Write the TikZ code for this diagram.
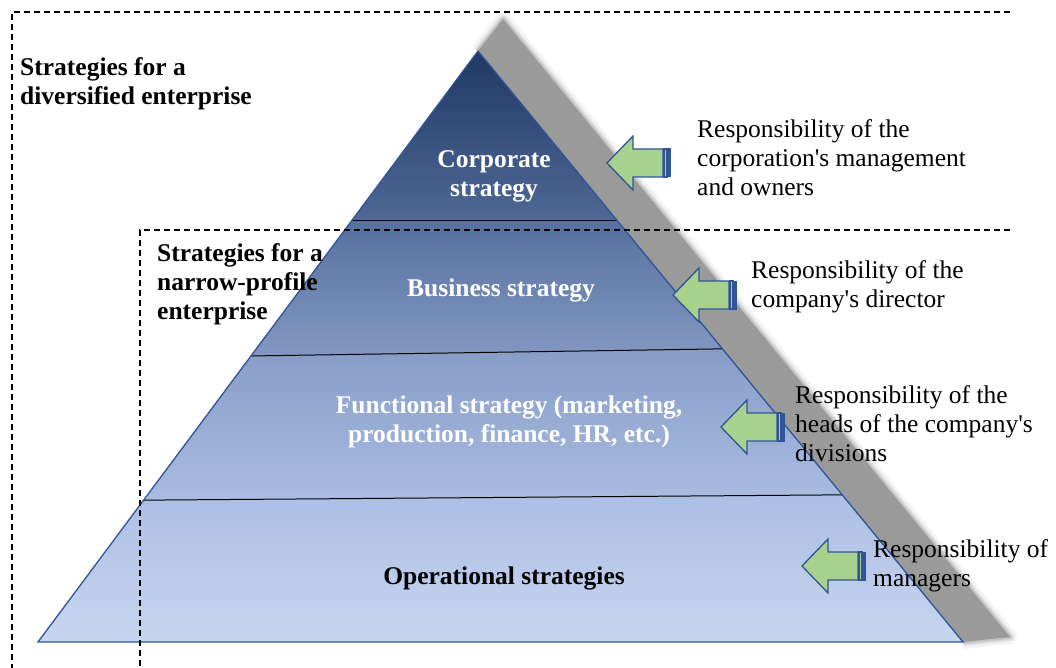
\documentclass[tikz,border=0pt]{standalone}
\usepackage{fontspec}
\setmainfont{Liberation Serif}
\usepackage{tikz}
\usetikzlibrary{calc}
\definecolor{edgeblue}{HTML}{2F5597}
\definecolor{arrowgreen}{HTML}{A9D18E}
\definecolor{shadowgray}{HTML}{9A9A9A}
\definecolor{bandA}{HTML}{203864}
\definecolor{bandB}{HTML}{4F6896}
\definecolor{bandC}{HTML}{56709F}
\definecolor{bandD}{HTML}{8298C2}
\definecolor{bandE}{HTML}{879DC6}
\definecolor{bandF}{HTML}{A9BCE2}
\definecolor{bandG}{HTML}{ABBEE4}
\definecolor{bandH}{HTML}{C8D5EF}
\newcommand{\txt}{\fontsize{25.5}{29}\selectfont}
\newcommand{\apos}{\textquotesingle}

\tikzset{
  lbl/.style={font=\txt, align=left, anchor=west, inner sep=0pt},
  boldlbl/.style={font=\txt\bfseries, align=left, anchor=west, inner sep=0pt},
  inlbl/.style={font=\txt\bfseries, align=center, inner sep=0pt, text=white},
  frame/.style={dash pattern=on 6pt off 4pt, line width=1.1pt},
  pics/resparrow/.style={code={
    \filldraw[fill=arrowgreen, draw=edgeblue, line width=1.3pt, line join=miter]
      (0,0) -- (26,-27) -- (26,-14) -- (56,-14) -- (56,14) -- (26,14) -- (26,27) -- cycle;
    \filldraw[fill=arrowgreen, draw=edgeblue, line width=1.3pt] (57,-14) rectangle (60,14);
    \filldraw[fill=edgeblue, draw=edgeblue, line width=1pt] (60,-14) rectangle (63,14);
  }}
}

\begin{document}
\begin{tikzpicture}[x=1pt,y=-1pt]
\useasboundingbox (0,0) rectangle (1056,668);
\coordinate (apex) at (478,51);
\coordinate (bl) at (38,642);
\coordinate (br) at (963,642);
\coordinate (sa) at (503,19);
\coordinate (sb) at (1010,637);
% band borders on the two sides
\coordinate (l1) at ($(apex)!0.286!(bl)$);
\coordinate (r1) at ($(apex)!0.286!(br)$);
\coordinate (l2) at ($(apex)!0.516!(bl)$);
\coordinate (r2) at ($(apex)!0.504!(br)$);
\coordinate (l3) at ($(apex)!0.760!(bl)$);
\coordinate (r3) at ($(apex)!0.751!(br)$);

% shadow, with a soft rim
\draw[shadowgray, opacity=0.12, line width=14pt, line join=round] (apex)--(sa)--(sb)--(br);
\draw[shadowgray, opacity=0.22, line width=8pt, line join=round] (apex)--(sa)--(sb)--(br);
\draw[shadowgray, opacity=0.4, line width=4pt, line join=round] (apex)--(sa)--(sb)--(br);
\fill[shadowgray] (apex)--(sa)--(sb)--(br)--cycle;

% bands
\shade[top color=bandA, bottom color=bandB] (apex)--(r1)--(l1)--cycle;
\shade[top color=bandC, bottom color=bandD] (l1)--(r1)--(r2)--(l2)--cycle;
\shade[top color=bandE, bottom color=bandF] (l2)--(r2)--(r3)--(l3)--cycle;
\shade[top color=bandG, bottom color=bandH] (l3)--(r3)--(br)--(bl)--cycle;
\draw[line width=1pt] (l1) -- (r1);
\draw[line width=1pt] (l2) -- (r2);
\draw[line width=1pt] (l3) -- (r3);
\draw[edgeblue, line width=1.3pt, line join=miter] (apex)--(br)--(bl)--cycle;

% arrows
\pic at (607,163) {resparrow};
\pic at (673,295) {resparrow};
\pic at (721,427) {resparrow};
\pic at (802,566) {resparrow};

% texts
\node[inlbl] (corp) at (494,176) {Corporate\\strategy};
\node[inlbl] (bus) at (501,290) {Business strategy};
\node[inlbl] (func) at (509,422) {Functional strategy (marketing,\\production, finance, HR, etc.)};
\node[inlbl, text=black] (oper) at (504,578) {Operational strategies};
\node[boldlbl] (divers) at (20,84) {Strategies for a\\diversified enterprise};
\node[boldlbl] (narrow) at (157,284) {Strategies for a\\narrow-profile\\enterprise};
\node[lbl] (owners) at (697,158) {Responsibility of the\\corporation\apos s management\\and owners};
\node[lbl] (director) at (751,287) {Responsibility of the\\company\apos s director};
\node[lbl] (heads) at (795,424) {Responsibility of the\\heads of the company\apos s\\divisions};
\node[lbl] (managers) at (873,566) {Responsibility of\\managers};

% frames
\draw[frame] (1010,12) -- (12,12) -- (12,668);
\draw[frame] (1010,230) -- (140,230) -- (140,668);
\end{tikzpicture}
\end{document}
